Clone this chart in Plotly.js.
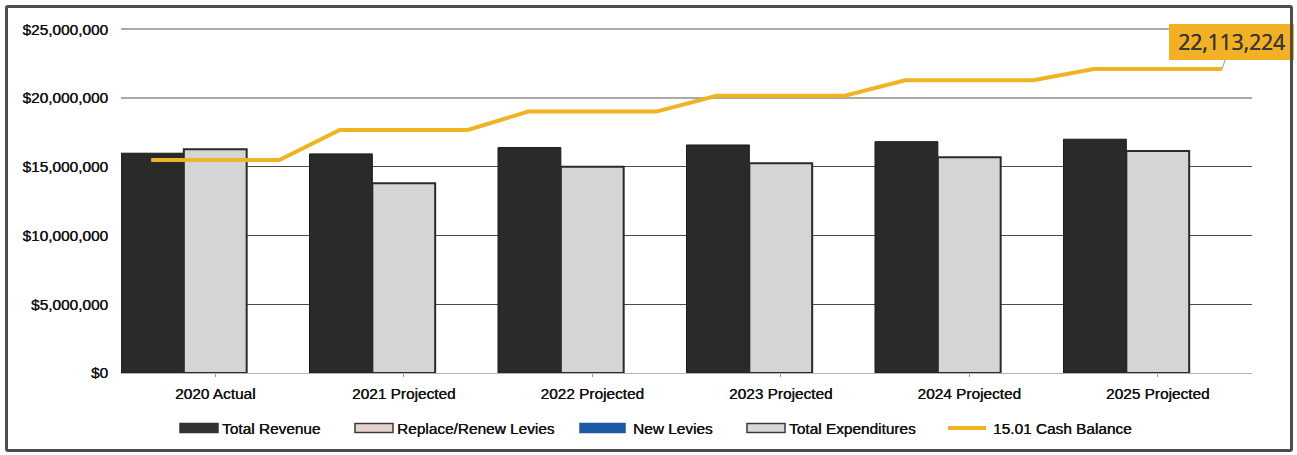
<!DOCTYPE html>
<html>
<head>
<meta charset="utf-8">
<script src="https://cdn.plot.ly/plotly-3.0.1.min.js"></script>
<style>
  html, body { margin: 0; padding: 0; background: #fff; }
  #wrap { position: relative; width: 1297px; height: 455px; overflow: hidden; }
  #chart { position: absolute; left: 0; top: 0; width: 1297px; height: 455px; }
  #frame { position: absolute; left: 5px; top: 5px; width: 1282px; height: 441px;
           border: 3px solid #4d4d4d; border-radius: 3px; pointer-events: none; }
</style>
</head>
<body>
<div id="wrap">
  <div id="chart"></div>
  <div id="frame"></div>
</div>
<script>
// Five-year forecast: revenue, expenditures and ending cash balance
const years = ['2020 Actual', '2021 Projected', '2022 Projected', '2023 Projected', '2024 Projected', '2025 Projected'];
const totalRevenue = [15990000, 15940000, 16400000, 16590000, 16830000, 17010000];
const totalExpenditures = [16280000, 13810000, 15010000, 15260000, 15700000, 16160000];
const cashBalance = [15500000, 17680000, 19020000, 20170000, 21300000, 22113224];
const seriesNames = ['Total Revenue', 'Replace/Renew Levies', 'New Levies', 'Total Expenditures', '15.01 Cash Balance'];
const yTicksLower = [0, 5000000, 10000000, 15000000];
const yTicksUpper = [20000000, 25000000];

const idx = years.map((_, i) => i);
const fmtMoney = v => '$' + v.toLocaleString('en-US');

// Cash balance is drawn as a flat run across each year's span
const lineX = [], lineY = [];
cashBalance.forEach((v, i) => { lineX.push(i - 0.34, i + 0.34); lineY.push(v, v); });

const FONT = 'Liberation Sans, Arial, sans-serif';
const TXT = '#111111';
const FS = 15.4;
const SHADOW = '0.35px 0 0 #111111';
const textFont = { family: FONT, size: FS, color: TXT, shadow: SHADOW };
const M = { l: 121, r: 45, t: 28, b: 82 };
const W = 1297, H = 455;
const pw = W - M.l - M.r, ph = H - M.t - M.b;
const px = x => (x - M.l) / pw;          // pixel -> paper x
const py = y => (H - M.b - y) / ph;      // pixel -> paper y

const traces = [
  { type: 'bar', name: seriesNames[0], x: idx, y: totalRevenue, offsetgroup: 'rev',
    marker: { color: '#2a2a2a', line: { color: '#1a1a1a', width: 1 } }, hoverinfo: 'y' },
  { type: 'bar', name: seriesNames[3], x: idx, y: totalExpenditures, offsetgroup: 'exp',
    marker: { color: '#d5d5d8', line: { color: '#2a2a2a', width: 2 } }, hoverinfo: 'y' },
  // empty third slot in each year group (levy series carry no amounts)
  { type: 'bar', name: seriesNames[2], x: idx, y: idx.map(() => null), offsetgroup: 'levy',
    marker: { color: '#1f5aa6' }, hoverinfo: 'skip' },
  { type: 'scatter', mode: 'lines', name: seriesNames[4], x: lineX, y: lineY, yaxis: 'y2',
    line: { color: '#f0b323', width: 4 }, hoverinfo: 'y' }
];

// Legend drawn as swatches + labels along the bottom
const legendRowY = 428;
const legendItems = [
  { name: seriesNames[0], x0: 180, kind: 'box', fill: '#333333', edge: '#333333', tx: 220 },
  { name: seriesNames[1], x0: 355, kind: 'box', fill: '#e6d3d1', edge: '#3a3a3a', tx: 395 },
  { name: seriesNames[2], x0: 580, kind: 'box', fill: '#1f5aa6', edge: '#1f5aa6', tx: 631 },
  { name: seriesNames[3], x0: 747, kind: 'box', fill: '#d8d8da', edge: '#3a3a3a', tx: 787 },
  { name: seriesNames[4], x0: 948, kind: 'line', fill: '#f0b323', edge: '#f0b323', tx: 991 }
];
const shapes = [], annotations = [];
legendItems.forEach(it => {
  const w = it.name === seriesNames[2] ? 45 : 38;
  if (it.kind === 'box') {
    shapes.push({ type: 'rect', xref: 'paper', yref: 'paper',
      x0: px(it.x0), x1: px(it.x0 + w), y0: py(legendRowY + 4.5), y1: py(legendRowY - 4.5),
      fillcolor: it.fill, line: { color: it.edge, width: 1.5 } });
  } else {
    shapes.push({ type: 'line', xref: 'paper', yref: 'paper',
      x0: px(it.x0), x1: px(it.x0 + w), y0: py(legendRowY), y1: py(legendRowY),
      line: { color: it.fill, width: 4 } });
  }
  annotations.push({ xref: 'paper', yref: 'paper', x: px(it.tx), y: py(legendRowY),
    xanchor: 'left', yanchor: 'middle', showarrow: false, text: it.name, font: textFont });
});

// Callout for the final cash balance
const lastI = cashBalance.length - 1;
annotations.push({
  x: lastI + 0.34, y: cashBalance[lastI], xref: 'x', yref: 'y2',
  text: cashBalance[lastI].toLocaleString('en-US'),
  showarrow: true, arrowhead: 0, arrowwidth: 1, arrowcolor: '#9a9a9a',
  ax: 10, ay: -27, width: 117, height: 28, borderpad: 3,
  bgcolor: '#f2b125', bordercolor: '#f2b125',
  font: { family: 'Open Sans, Noto Sans, sans-serif', size: 21, color: '#3b3b3b' }
});

// a little headroom so the top gridline is kept
const yRange = [0, 25100000];
const layout = {
  width: W, height: H,
  margin: M,
  paper_bgcolor: 'rgba(0,0,0,0)', plot_bgcolor: '#ffffff',
  barmode: 'group', bargap: 0, bargroupgap: 0,
  showlegend: false,
  font: textFont,
  xaxis: {
    type: 'linear', range: [-0.5, years.length - 0.5],
    tickvals: idx, ticktext: years,
    showgrid: false, zeroline: false,
    showline: true, linecolor: '#b5b5b5', linewidth: 1,
    ticks: 'outside', ticklen: 3, tickcolor: '#9a9a9a',
    ticklabelstandoff: 4,
    tickfont: textFont
  },
  // lower gridlines are darker, upper ones lighter and heavier
  yaxis: {
    range: yRange, tickvals: yTicksLower, ticktext: yTicksLower.map(fmtMoney),
    showgrid: true, gridcolor: '#4a4a4a', gridwidth: 1.3,
    zeroline: false, showline: false,
    ticklabelstandoff: 12,
    tickfont: textFont
  },
  yaxis2: {
    overlaying: 'y', side: 'left', anchor: 'x',
    range: yRange, tickvals: yTicksUpper, ticktext: yTicksUpper.map(fmtMoney),
    showgrid: true, gridcolor: '#a9a9a9', gridwidth: 2,
    zeroline: false, showline: false,
    ticklabelstandoff: 12,
    tickfont: textFont
  },
  shapes: shapes,
  annotations: annotations
};

Plotly.newPlot('chart', traces, layout, { displayModeBar: false, staticPlot: true });
</script>
</body>
</html>
